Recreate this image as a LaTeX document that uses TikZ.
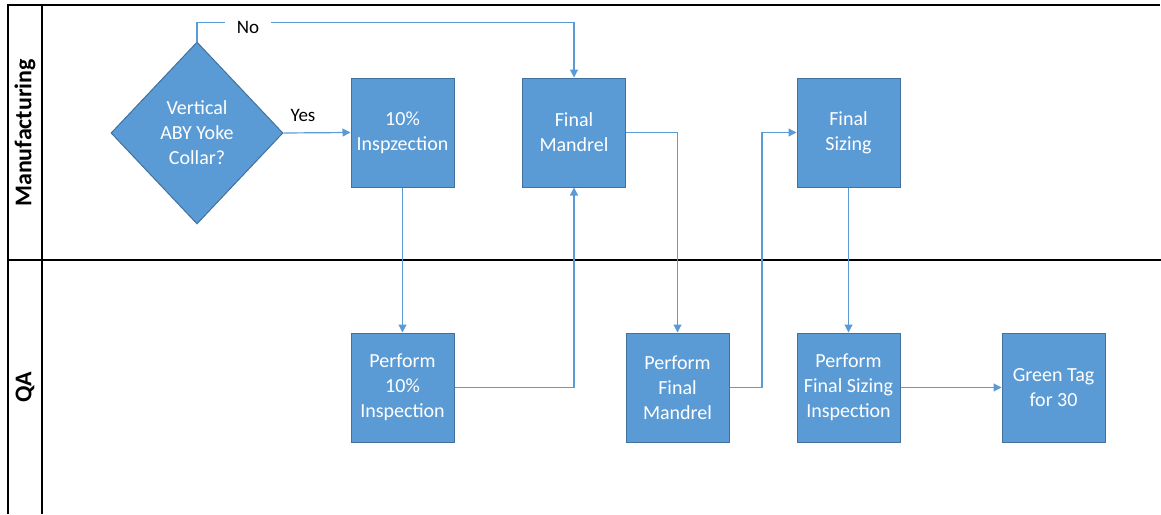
\documentclass[tikz,border=0pt]{standalone}
\usepackage{fontspec}
\setmainfont{Carlito}
\usetikzlibrary{arrows.meta,shapes.geometric}
\definecolor{boxblue}{HTML}{5B9BD5}
\definecolor{boxedge}{HTML}{41719C}
\begin{document}
\begin{tikzpicture}[x=1pt,y=-1pt,
  box/.style={draw=boxedge, line width=1pt, fill=boxblue, minimum width=103pt, minimum height=109pt, align=center, text=white, font=\fontsize{20}{25}\selectfont, inner sep=0pt},
  decision/.style={diamond, draw=boxedge, line width=1pt, fill=boxblue, minimum width=172pt, minimum height=182pt, align=center, text=white, font=\fontsize{20}{25}\selectfont, inner sep=0pt},
  conn/.style={draw=boxblue, line width=1.2pt, -{Triangle[length=8pt,width=8pt]}},
  lane/.style={draw=black, line width=1.3pt},
  lanelabel/.style={rotate=90, font=\bfseries\fontsize{24}{28}\selectfont},
  lbl/.style={font=\fontsize{19}{23}\selectfont, text=black}
]
\useasboundingbox (0,0) rectangle (1161,514);
% swimlane frame
\coordinate (tl) at (8,5);
\coordinate (tr) at (1160,5);
\coordinate (bl) at (8,514);
\coordinate (il) at (42,5);
\coordinate (ib) at (42,514);
\coordinate (dl) at (8,260);
\coordinate (dr) at (1161,260);
\draw[lane] (bl) -- (tl) -- (tr);
\draw[lane] (il) -- (ib);
\draw[lane] (dl) -- (dr);
\node[lanelabel] (manu) at (25,133) {Manufacturing};
\node[lanelabel] (qa) at (25,387) {QA};
% nodes
\node[decision] (dec) at (197,133) {Vertical\\ABY Yoke\\Collar?};
\node[box] (insp) at (402.5,132.5) {10\%\\Inspzection};
\node[box] (fm) at (574,132.5) {Final\\Mandrel};
\node[box] (fs) at (848.5,132.5) {Final\\Sizing};
\node[box] (pinsp) at (402.5,387.5) {Perform\\10\%\\Inspection};
\node[box] (pfm) at (677.5,387.5) {Perform\\Final\\Mandrel};
\node[box] (pfs) at (848.5,387.5) {Perform\\Final Sizing\\Inspection};
\node[box] (gt) at (1053.5,387.5) {Green Tag\\for 30};
% connectors
\draw[conn] (dec.north) -- ++(0,-19) -| (fm.north);
\node[lbl, fill=white, inner xsep=12pt, inner ysep=2pt] (no) at (248,27) {No};
\draw[conn] (dec.east) -- (insp.west);
\node[lbl] (yes) at (303,115) {Yes};
\draw[conn] (insp.south) -- (pinsp.north);
\draw[conn] (pinsp.east) -| (fm.south);
\draw[conn] (fm.east) -| (pfm.north);
\coordinate (jog) at (762,387.5);
\draw[conn] (pfm.east) -- (jog) |- (fs.west);
\draw[conn] (fs.south) -- (pfs.north);
\draw[conn] (pfs.east) -- (gt.west);
\end{tikzpicture}
\end{document}
